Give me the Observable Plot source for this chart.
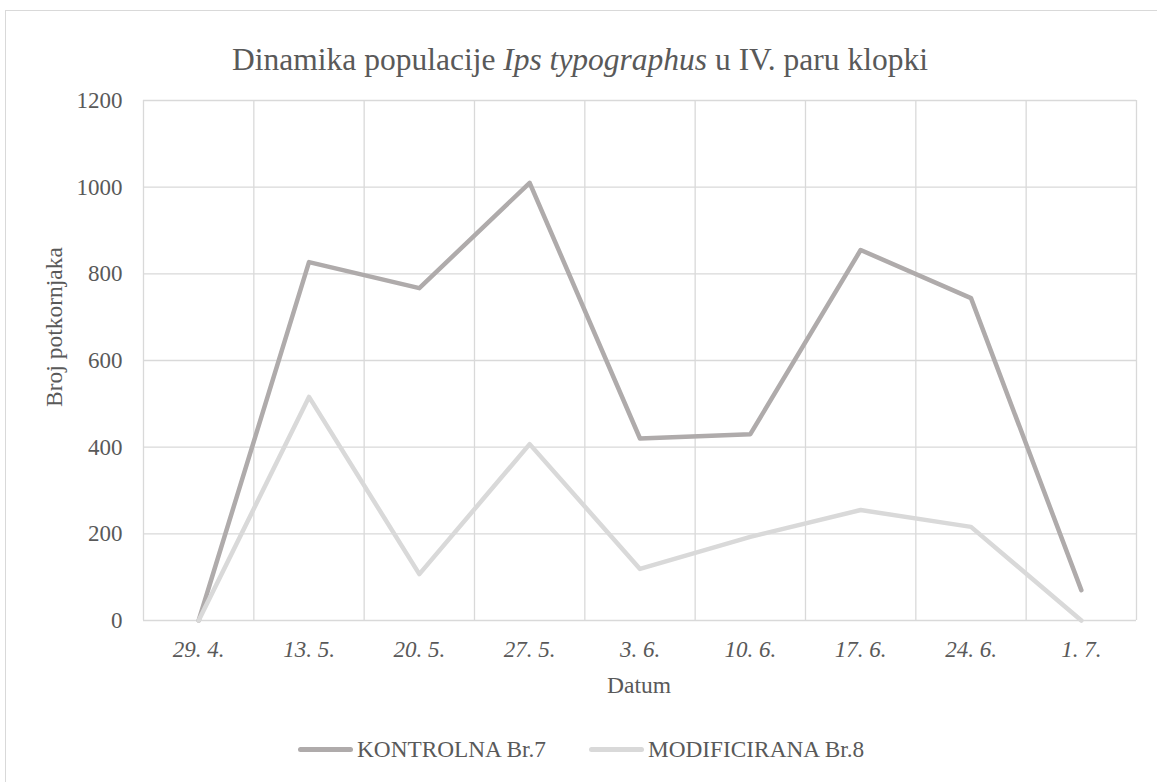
<!DOCTYPE html>
<html>
<head>
<meta charset="utf-8">
<script src="https://cdn.jsdelivr.net/npm/d3@7"></script>
<script src="https://cdn.jsdelivr.net/npm/@observablehq/plot@0.6"></script>
<style>
  html, body { margin: 0; padding: 0; background: #fff; }
  #wrap { position: relative; width: 1157px; height: 782px; overflow: hidden;
          font-family: "Liberation Serif", "Times New Roman", serif; color: #595959; background: #fff; }
  #frame { position: absolute; left: 5px; top: 10px; width: 1200px; height: 900px;
           border: 1.3px solid #d9d9d9; box-sizing: border-box; }
  #title { position: absolute; left: 0; top: 43.6px; width: 1160px; text-align: center;
           font-size: 31.5px; line-height: 1; white-space: nowrap; }
  #chart { position: absolute; left: 0; top: 80px; }
  #ylabel { position: absolute; left: 55px; top: 327px; font-size: 23.5px; line-height: 1;
            white-space: nowrap; transform: translate(-50%, -50%) rotate(-90deg); }
  #xlabel { position: absolute; left: 639px; top: 674px; font-size: 23.5px; line-height: 1;
            white-space: nowrap; transform: translateX(-50%); }
  #legend { position: absolute; left: 298px; top: 736px; height: 28px; display: flex;
            align-items: center; font-size: 23.3px; line-height: 1; white-space: nowrap; }
  .item { display: flex; align-items: center; margin-right: 43px; }
  .sw { width: 55px; height: 5px; border-radius: 2.5px; margin-right: 4px; }
  #chart svg text { font-family: "Liberation Serif", "Times New Roman", serif; }
</style>
</head>
<body>
<div id="wrap">
  <div id="frame"></div>
  <div id="title"></div>
  <div id="chart"></div>
  <div id="ylabel"></div>
  <div id="xlabel"></div>
  <div id="legend"></div>
</div>
<script>
// ---- data ----
const dates = ["29. 4.", "13. 5.", "20. 5.", "27. 5.", "3. 6.", "10. 6.", "17. 6.", "24. 6.", "1. 7."];
const kontrolna = [0, 827, 767, 1010, 420, 430, 855, 744, 70];
const modificirana = [0, 516, 107, 407, 119, 193, 255, 216, 0];
const seriesNames = ["KONTROLNA Br.7", "MODIFICIRANA Br.8"];
const seriesColors = ["#afabab", "#d9d9d9"];
const yTicks = [0, 200, 400, 600, 800, 1000, 1200];
const titleParts = ["Dinamika populacije ", "Ips typographus", " u IV. paru klopki"];
const yLabel = "Broj potkornjaka";
const xLabel = "Datum";

// ---- table ----
const seriesValues = [kontrolna, modificirana];
const data = [];
seriesNames.forEach((s, k) => {
  dates.forEach((d, i) => data.push({ i, date: d, value: seriesValues[k][i], series: s }));
});

const idx = d3.range(dates.length);
const bounds = d3.range(dates.length + 1).map(i => i - 0.5);
const serif = '"Liberation Serif", "Times New Roman", serif';

const chart = Plot.plot({
  width: 1157,
  height: 620,
  marginLeft: 143,
  marginRight: 21,
  marginTop: 20,
  marginBottom: 80,
  style: { fontFamily: serif, fontSize: "23px", color: "#595959", background: "transparent" },
  x: { type: "linear", domain: [-0.5, dates.length - 0.5], axis: null },
  y: { domain: [0, 1200], axis: null },
  color: { domain: seriesNames, range: seriesColors },
  marks: [
    Plot.ruleY(yTicks, { stroke: "#d9d9d9", strokeWidth: 1.3 }),
    Plot.ruleX(bounds, { stroke: "#d9d9d9", strokeWidth: 1.3 }),
    Plot.axisY(yTicks, { tickSize: 0, tickPadding: 21, label: null, fontSize: 23, fill: "#595959",
                         tickFormat: d => String(d) }),
    Plot.axisX(idx, { tickSize: 0, tickPadding: 20, label: null, fontSize: 23, fontStyle: "italic",
                      fill: "#595959", tickFormat: i => dates[i] }),
    Plot.line(data, { x: "i", y: "value", z: "series", stroke: "series", strokeWidth: 4.5,
                      strokeLinejoin: "round", strokeLinecap: "round" })
  ]
});
document.getElementById("chart").appendChild(chart);

// ---- title ----
const t = document.getElementById("title");
titleParts.forEach((p, k) => {
  const s = document.createElement("span");
  s.textContent = p;
  if (k === 1) s.style.fontStyle = "italic";
  t.appendChild(s);
});
document.getElementById("ylabel").textContent = yLabel;
document.getElementById("xlabel").textContent = xLabel;

// ---- legend ----
const lg = document.getElementById("legend");
seriesNames.forEach((s, k) => {
  const it = document.createElement("div"); it.className = "item";
  const sw = document.createElement("div"); sw.className = "sw"; sw.style.background = seriesColors[k];
  const tx = document.createElement("span"); tx.textContent = s;
  it.appendChild(sw); it.appendChild(tx); lg.appendChild(it);
});
</script>
</body>
</html>
